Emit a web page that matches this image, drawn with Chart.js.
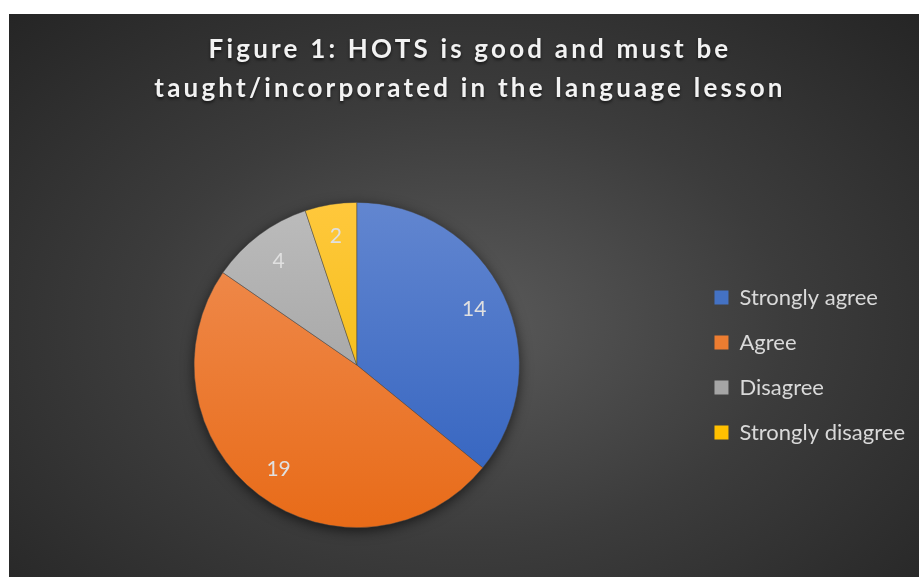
<!DOCTYPE html>
<html>
<head>
<meta charset="utf-8">
<script src="https://cdn.jsdelivr.net/npm/chart.js@4.4.1/dist/chart.umd.min.js"></script>
<style>
  html, body { margin: 0; padding: 0; background: #fff; }
  #wrap {
    position: absolute; left: 9px; top: 14px; width: 910px; height: 563px;
    background: radial-gradient(ellipse farthest-corner at 50% 55%, #5a5a5a 0%, #3c3c3c 50%, #252525 100%);
  }
</style>
</head>
<body>
<div id="wrap"><canvas id="chart"></canvas></div>
<script>
const titleLines = ["Figure 1: HOTS is good and must be", "taught/incorporated in the language lesson"];
const categories = ["Strongly agree", "Agree", "Disagree", "Strongly disagree"];
const responses = [14, 19, 4, 2];
const legendColors = ["#4472c4", "#ed7d31", "#a5a5a5", "#ffc000"];
const topColors = ["#6286d0", "#f08f55", "#bcbcbc", "#ffc83c"];
const bottomColors = ["#2f60be", "#e86b18", "#969696", "#edb800"];

// office-style vertical gradient on each slice
function sliceFill(context) {
  const chart = context.chart;
  const area = chart.chartArea;
  if (!area) return legendColors[context.dataIndex];
  const g = chart.ctx.createLinearGradient(0, area.top, 0, area.bottom);
  g.addColorStop(0, topColors[context.dataIndex]);
  g.addColorStop(1, bottomColors[context.dataIndex]);
  return g;
}

// soft shadow under the pie
const pieShadow = {
  id: 'pieShadow',
  beforeDatasetsDraw(chart) {
    const arc = chart.getDatasetMeta(0).data[0];
    if (!arc) return;
    const ctx = chart.ctx;
    ctx.save();
    ctx.shadowColor = 'rgba(0,0,0,0.7)';
    ctx.shadowBlur = 14;
    ctx.shadowOffsetY = 3;
    ctx.fillStyle = '#333';
    ctx.beginPath();
    ctx.arc(arc.x, arc.y, arc.outerRadius - 1, 0, Math.PI * 2);
    ctx.fill();
    ctx.restore();
  }
};

// value labels inside the slices
const sliceLabels = {
  id: 'sliceLabels',
  afterDatasetsDraw(chart) {
    const ctx = chart.ctx;
    ctx.save();
    ctx.font = '21px Lato';
    ctx.fillStyle = '#e0e0e0';
    ctx.textAlign = 'center';
    ctx.textBaseline = 'middle';
    chart.getDatasetMeta(0).data.forEach((arc, i) => {
      const mid = (arc.startAngle + arc.endAngle) / 2;
      const r = arc.outerRadius * 0.8;
      ctx.fillText(String(responses[i]), arc.x + Math.cos(mid) * r, arc.y + Math.sin(mid) * r);
    });
    ctx.restore();
  }
};

// spaced-out bold title, like the original
const figTitle = {
  id: 'figTitle',
  afterDraw(chart) {
    const ctx = chart.ctx;
    ctx.save();
    ctx.font = 'bold 26px Lato';
    ctx.letterSpacing = '3.2px';
    ctx.fillStyle = '#f2f2f2';
    ctx.textAlign = 'center';
    ctx.textBaseline = 'middle';
    ctx.shadowColor = 'rgba(0,0,0,0.6)';
    ctx.shadowBlur = 3;
    ctx.shadowOffsetY = 2;
    titleLines.forEach((line, i) => ctx.fillText(line, chart.width / 2 + 6, 36 + i * 39));
    ctx.restore();
  }
};

new Chart(document.getElementById('chart'), {
  type: 'pie',
  data: {
    labels: categories,
    datasets: [{
      data: responses,
      backgroundColor: sliceFill,
      borderColor: 'rgba(70,70,70,0.6)',
      borderWidth: 0.75
    }]
  },
  plugins: [pieShadow, sliceLabels, figTitle],
  options: {
    responsive: true,
    maintainAspectRatio: false,
    animation: false,
    layout: { padding: { top: 188, bottom: 49, left: 13, right: 4 } },
    plugins: {
      tooltip: { enabled: false },
      legend: {
        position: 'right',
        labels: {
          color: '#d9d9d9',
          font: { family: 'Lato', size: 22 },
          boxWidth: 14,
          boxHeight: 14,
          padding: 23,
          generateLabels: chart => categories.map((c, i) => ({
            text: c,
            fillStyle: legendColors[i],
            strokeStyle: legendColors[i],
            lineWidth: 0,
            fontColor: '#d9d9d9',
            index: i
          }))
        }
      }
    }
  }
});
</script>
</body>
</html>
